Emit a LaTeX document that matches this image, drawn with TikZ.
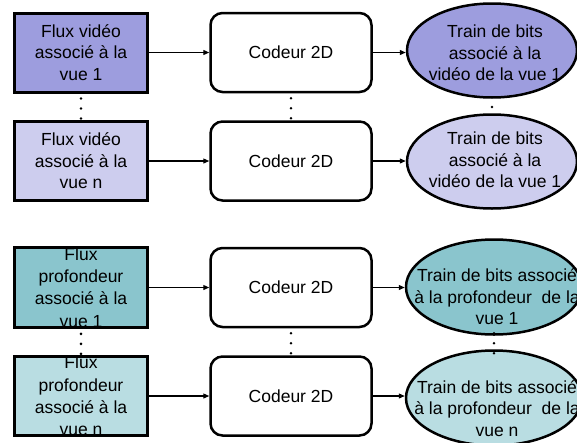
\documentclass[tikz,border=0pt]{standalone}
\usepackage{fontspec}
\setmainfont{Liberation Sans}
\usetikzlibrary{arrows.meta,shapes.geometric,calc}
\definecolor{vioA}{RGB}{157,157,222}
\definecolor{vioB}{RGB}{205,205,238}
\definecolor{teaA}{RGB}{138,197,205}
\definecolor{teaB}{RGB}{185,221,226}
\begin{document}
\begin{tikzpicture}[x=1pt,y=-1pt,
  txt/.style={font=\fontsize{17.5}{21.5}\selectfont, align=center, inner sep=0pt},
  srcbox/.style={draw, line width=3pt, minimum width=133pt, minimum height=79pt, txt},
  codbox/.style={draw, line width=2.5pt, rounded corners=12pt, fill=white, minimum width=161pt, minimum height=79pt, txt},
  outell/.style={draw, ellipse, line width=2.5pt, inner sep=0pt, minimum width=170pt, minimum height=94pt},
  arr/.style={-{Triangle[length=6pt,width=5pt]}, line width=1.2pt},
  dots/.style={line width=2.8pt, line cap=round, dash pattern=on 0pt off 10pt}
]
\useasboundingbox (0,0) rectangle (577,442);

% sources
\node[srcbox, fill=vioA] (s1) at (81,52.5) {Flux vidéo\\associé à la\\vue 1};
\node[srcbox, fill=vioB] (s2) at (81,161) {Flux vidéo\\associé à la\\vue n};
\node[srcbox, fill=teaA, font=\fontsize{17.5}{22.3}\selectfont] (s3) at (81,287.5) {Flux\\profondeur\\associé à la\\vue 1};
\node[srcbox, fill=teaB, font=\fontsize{17.5}{22.3}\selectfont] (s4) at (81,396) {Flux\\profondeur\\associé à la\\vue n};

% coders
\node[codbox] (c1) at (291,52.5) {Codeur 2D};
\node[codbox] (c2) at (291,161) {Codeur 2D};
\node[codbox] (c3) at (291,287.5) {Codeur 2D};
\node[codbox] (c4) at (291,396) {Codeur 2D};

% outputs
\node[outell, fill=vioA] (e1) at (492,50.5) {};
\node[outell, fill=vioB] (e2) at (492,161.5) {};
\node[outell, fill=teaA, minimum width=176pt, minimum height=95pt] (e3) at (494,287) {};
\node[outell, fill=teaB, minimum width=176pt, minimum height=95pt] (e4) at (494,398) {};

\node[txt] (t1) at (495,53) {Train de bits\\associé à la\\vidéo de la vue 1};
\node[txt] (t2) at (495,160) {Train de bits\\associé à la\\vidéo de la vue 1};
\node[txt] (t3) at (497,297) {Train de bits associé\\à la profondeur\ \ de la\\vue 1};
\node[txt] (t4) at (497,408.5) {Train de bits associé\\à la profondeur\ \ de la\\vue n};

% arrows
\foreach \i in {1,2,3,4}{
  \draw[arr] (s\i.east) -- (s\i.east -| c\i.west);
  \draw[arr] (c\i.east) -- (c\i.east -| e\i.west);
}

% dotted continuations
\draw[dots, dash phase=5pt] (s1.south) -- (s2.north);
\draw[dots, dash phase=5pt] (s3.south) -- (s4.north);
\draw[dots, dash phase=5pt] (c1.south) -- (c2.north);
\draw[dots, dash phase=5pt] (c3.south) -- (c4.north);
\draw[dots, dash phase=1.75pt] (e1.south) -- (e2.north);
\draw[dots] ($(e3.south)+(0,-2.5)$) -- ($(e4.north)+(0,5)$);
\end{tikzpicture}
\end{document}
